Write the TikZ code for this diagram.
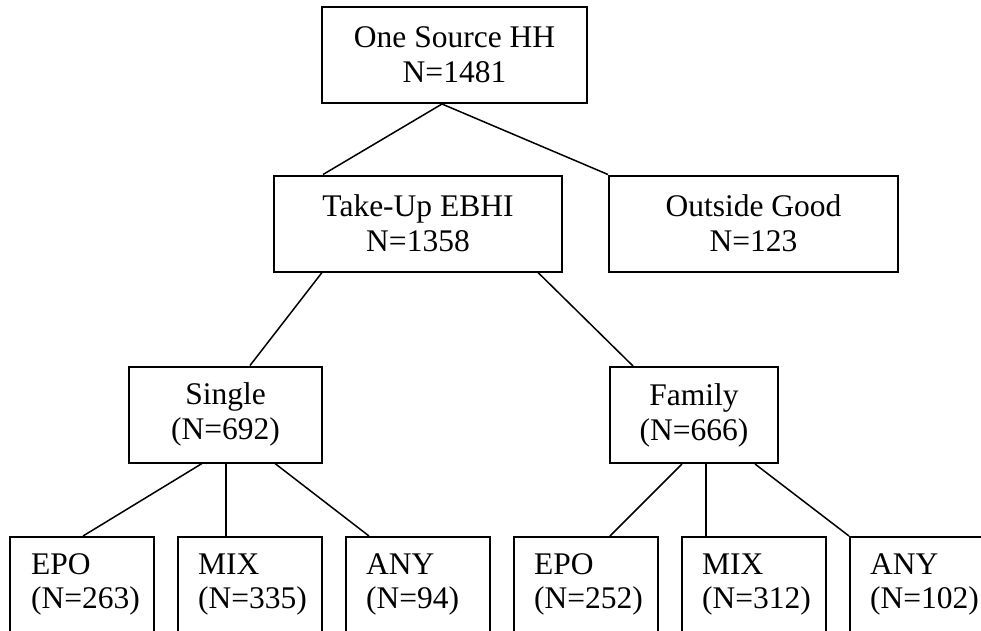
\documentclass[tikz,border=0pt]{standalone}
\usepackage{fontspec}
\setmainfont{Liberation Serif}
\usetikzlibrary{calc}
\tikzset{
  box/.style={draw, line width=2pt, inner sep=0pt, align=center, minimum height=96pt,
    font=\fontsize{31.5}{35}\selectfont},
  leaf/.style={draw, line width=2pt, inner sep=0pt, minimum width=144pt, minimum height=120pt, anchor=north},
  leaftext/.style={inner sep=0pt, align=left, anchor=base west, font=\fontsize{31.5}{34}\selectfont},
  link/.style={line width=1.5pt}
}
\begin{document}
\begin{tikzpicture}[x=1pt,y=-1pt]
\useasboundingbox[clip] (0,0) rectangle (981,630);
\fill[white] (0,0) rectangle (981,630);
% boxes
\node[box, minimum width=265pt] (top) at (454.5,55) {One Source HH\\N=1481};
\node[box, minimum width=288pt] (take) at (418,223.5) {Take-Up EBHI\\N=1358};
\node[box, minimum width=289pt] (out) at (753.5,223.5) {Outside Good\\N=123};
\node[box, minimum width=193pt] (single) at (225.5,414.5) {Single\\(N=692)};
\node[box, minimum width=168pt] (family) at (694,415) {Family\\(N=666)};
% leaves
\node[leaf] (e1) at (82,536) {};
\node[leaf] (m1) at (250,536) {};
\node[leaf] (a1) at (418,536) {};
\node[leaf] (e2) at (586,536) {};
\node[leaf] (m2) at (754,536) {};
\node[leaf] (a2) at (922,536) {};
\node[leaftext] (te1) at ($(e1.north west)+(22,72)$) {EPO\\(N=263)};
\node[leaftext] (tm1) at ($(m1.north west)+(21,72)$) {MIX\\(N=335)};
\node[leaftext] (ta1) at ($(a1.north west)+(21,72)$) {ANY\\(N=94)};
\node[leaftext] (te2) at ($(e2.north west)+(21,72)$) {EPO\\(N=252)};
\node[leaftext] (tm2) at ($(m2.north west)+(21,72)$) {MIX\\(N=312)};
\node[leaftext] (ta2) at ($(a2.north west)+(21,72)$) {ANY\\(N=102)};
% connectors
\draw[link] ([xshift=-12.5pt]top.south) -- ([xshift=-95pt]take.north);
\draw[link] ([xshift=-12.5pt]top.south) -- (out.north west);
\draw[link] ([xshift=-96pt]take.south) -- ([xshift=24.5pt]single.north);
\draw[link] ([xshift=120pt]take.south) -- ([xshift=-61pt]family.north);
\draw[link] ([xshift=-23.5pt]single.south) -- ([xshift=1pt]e1.north);
\draw[link] ([xshift=0.5pt]single.south) -- ([xshift=-24pt]m1.north);
\draw[link] ([xshift=49.5pt]single.south) -- ([xshift=-49pt]a1.north);
\draw[link] ([xshift=-12pt]family.south) -- ([xshift=24pt]e2.north);
\draw[link] ([xshift=12pt]family.south) -- ([xshift=-48pt]m2.north);
\draw[link] ([xshift=61pt]family.south) -- (a2.north west);
\end{tikzpicture}
\end{document}
